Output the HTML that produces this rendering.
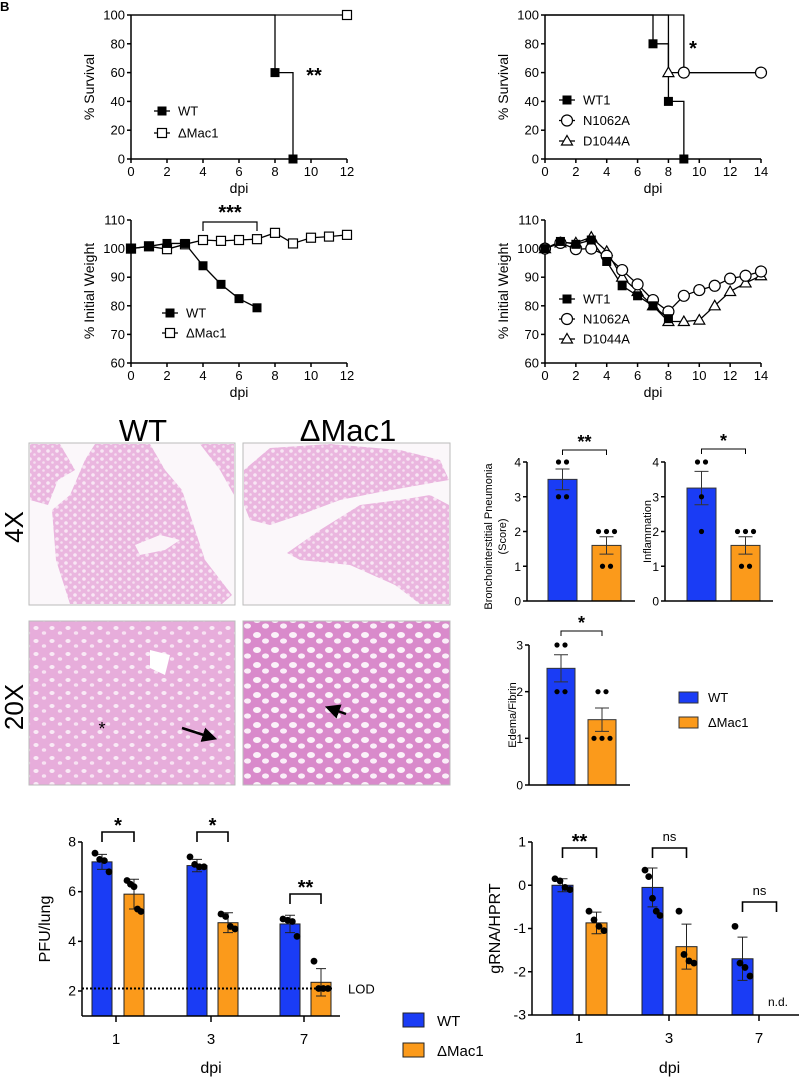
<!DOCTYPE html>
<html><head><meta charset="utf-8"><style>
html,body{margin:0;padding:0;background:#fff;}
svg{display:block;font-family:"Liberation Sans",Arial,sans-serif;}
</style></head><body>
<svg id="fig" width="799" height="1078" viewBox="0 0 799 1078">
<defs>
<pattern id="tis4" width="9" height="8" patternUnits="userSpaceOnUse"><rect width="9" height="8" fill="#eab6df"/><circle cx="3" cy="3" r="1.8" fill="#f8e6f4"/><circle cx="7.5" cy="6.5" r="1.3" fill="#f5dff0"/></pattern>
<pattern id="tis20a" width="16" height="13" patternUnits="userSpaceOnUse"><rect width="16" height="13" fill="#e7addb"/><ellipse cx="4" cy="4" rx="2.6" ry="2" fill="#f9eaf6"/><ellipse cx="12" cy="9" rx="2.2" ry="1.8" fill="#f7e2f2"/></pattern>
<pattern id="tis20b" width="18" height="15" patternUnits="userSpaceOnUse"><rect width="18" height="15" fill="#d98acb"/><ellipse cx="5" cy="5" rx="4" ry="3" fill="#fbf2f9"/><ellipse cx="13.5" cy="11" rx="3.5" ry="2.6" fill="#faeef8"/></pattern>
<marker id="ah" markerWidth="6" markerHeight="6" refX="3" refY="3" orient="auto"><path d="M0,0L6,3L0,6Z" fill="#000"/></marker>
</defs>
<text x="0" y="11" font-size="13" font-weight="bold">B</text>
<g>
<text x="143" y="441" font-size="31" text-anchor="middle">WT</text>
<text x="348" y="441" font-size="31" text-anchor="middle">ΔMac1</text>
<text transform="translate(23,527) rotate(-90)" font-size="26" text-anchor="middle">4X</text>
<text transform="translate(23,707) rotate(-90)" font-size="26" text-anchor="middle">20X</text>
<g>
<rect x="29" y="443" width="206" height="162" fill="#fbf7fa" stroke="#bbb"/>
<path d="M30,444 L60,444 L75,470 L58,480 L48,505 L30,500 Z" fill="url(#tis4)"/>
<path d="M95,444 L150,444 L165,470 L182,490 L205,560 L232,595 L222,604 L70,604 L56,560 L52,510 L70,495 L85,460 Z" fill="url(#tis4)"/>
<path d="M200,444 L234,444 L234,495 L220,470 Z" fill="url(#tis4)"/>
<path d="M135,545 L160,535 L180,540 L165,550 L140,555 Z" fill="#fbf4f9"/>
</g>
<g>
<rect x="243" y="443" width="207" height="162" fill="#fbf7fa" stroke="#bbb"/>
<path d="M244,470 L270,448 L330,444 L400,450 L440,460 L449,480 L420,485 L380,492 L340,500 L300,515 L270,525 L250,520 L244,505 Z" fill="url(#tis4)"/>
<path d="M287,553 L320,530 L360,505 L400,500 L430,495 L449,505 L449,604 L420,604 L395,585 L350,565 L300,560 Z" fill="url(#tis4)"/>
</g>
<g>
<rect x="29" y="621" width="206" height="164" fill="url(#tis20a)" stroke="#bbb"/>
<path d="M150,650 L170,655 L165,675 L150,668 Z" fill="#fff"/>
<text x="102" y="735" font-size="18" text-anchor="middle">*</text>
<line x1="182" y1="728" x2="210" y2="737" stroke="#000" stroke-width="2.5" marker-end="url(#ah)"/>
</g>
<g>
<rect x="243" y="621" width="207" height="164" fill="url(#tis20b)" stroke="#bbb"/>
<line x1="346" y1="714" x2="332" y2="709" stroke="#000" stroke-width="2.5" marker-end="url(#ah)"/>
</g>
</g>
</svg>
<script>
// ---------- data ----------
const survLeftWtT=[0,8,9], survLeftWtV=[100,60,0];
const survLeftMacT=[0,12], survLeftMacV=[100,100];
const survRightWtT=[0,7,8,9], survRightWtV=[100,80,40,0];
const survRightNT=[0,9,14], survRightNV=[100,60,60];
const survRightDT=[0,8,14], survRightDV=[100,60,60];
const wtLeftDays=[0,1,2,3,4,5,6,7];
const wtLeftWT=[100,100.8,101.8,101.8,94,87.5,82.5,79.3];
const wtLeftMacDays=[0,1,2,3,4,5,6,7,8,9,10,11,12];
const wtLeftMac=[100,100.8,99.8,101.5,103,102.7,103,103.3,105.5,101.8,103.8,104.2,104.8];
const wtRightWtDays=[0,1,2,3,4,5,6,7,8];
const wtRightWT1=[100,102.5,101.5,103,95.5,87,83.5,80,75.5];
const wtRightDays=[0,1,2,3,4,5,6,7,8,9,10,11,12,13,14];
const wtRightN=[100,102,99.8,100,97.5,92.5,87.5,82,78,83.5,85.5,87,89.5,90.5,92];
const wtRightD=[100,102,102,104,99,90,85,80,74.5,74.5,75,80,85,88,90.5];
const histGroups=['WT','ΔMac1'];
const bronchoMean=[3.5,1.6], bronchoErr=[0.3,0.25];
const bronchoDots=[[4,4,3,3],[2,2,2,1,1]];
const inflMean=[3.25,1.6], inflErr=[0.48,0.25];
const inflDots=[[4,4,3,2],[2,2,2,1,1]];
const edemaMean=[2.5,1.4], edemaErr=[0.29,0.25];
const edemaDots=[[3,3,2,2],[2,2,1,1,1]];
const dpiCats=['1','3','7'];
const pfuWT=[7.2,7.05,4.7], pfuMac=[5.9,4.75,2.35];
const pfuWTErr=[0.3,0.25,0.35], pfuMacErr=[0.6,0.4,0.55];
const pfuWTDots=[[7.55,7.3,7.25,6.8],[7.4,7.1,7.0,7.0],[4.9,4.85,4.8,4.2]];
const pfuMacDots=[[6.45,6.3,6.2,5.3,5.2],[5.1,5.0,4.6,4.5],[3.2,2.1,2.1,2.1]];
const pfuSig=['*','*','**'];
const lod=2.1;
const rnaWT=[0,-0.05,-1.7], rnaMac=[-0.87,-1.42,null];
const rnaWTErr=[0.15,0.45,0.5], rnaMacErr=[0.25,0.52,0];
const rnaWTDots=[[0.15,0.1,-0.05,-0.1],[0.35,0.2,-0.3,-0.6,-0.7],[-0.95,-1.8,-1.9,-2.1]];
const rnaMacDots=[[-0.6,-0.8,-0.95,-1.05],[-0.6,-1.6,-1.75,-1.8],[]];
const rnaSig=['**','ns','ns'];
// ---------- helpers ----------
const NS='http://www.w3.org/2000/svg';
const svg=document.getElementById('fig');
function mk(tag,attrs,name,parent){
  const e=document.createElementNS(NS,tag);
  for(const k in attrs) e.setAttribute(k,attrs[k]);
  
  
  (parent||svg).appendChild(e); return e;
}
function txt(x,y,s,size,name,parent,anchor,extra){
  const t=mk('text',Object.assign({x:x,y:y,'font-size':size,'text-anchor':anchor||'middle'},extra||{}),name,parent);
  t.textContent=s; return t;
}
function sc(d0,d1,r0,r1){return v=>r0+(v-d0)*(r1-r0)/(d1-d0);}
function yAxis(g,x,ys,ticks,ytop,ybot,fs){
  mk('line',{x1:x,y1:ytop,x2:x,y2:ybot,stroke:'#000','stroke-width':1.5},'y-axis-line',g);
  ticks.forEach(v=>{const y=ys(v);
    mk('line',{x1:x-4,y1:y,x2:x,y2:y,stroke:'#000','stroke-width':1.5},'y-tick',g);
    txt(x-6,y+4.5,String(v),fs||13,'y-tick-label',g,'end');});
}
function xAxis(g,y,xs,ticks,x0,x1,labY){
  mk('line',{x1:x0,y1:y,x2:x1,y2:y,stroke:'#000','stroke-width':1.5},'x-axis-line',g);
  ticks.forEach(v=>{const x=xs(v);
    mk('line',{x1:x,y1:y,x2:x,y2:y+4,stroke:'#000','stroke-width':1.5},'x-tick',g);
    txt(x,labY,String(v),13,'x-tick-label',g);});
}
function marker(g,type,x,y,name){
  if(type==='sq') mk('rect',{x:x-4.5,y:y-4.5,width:9,height:9,fill:'#000'},name,g);
  else if(type==='osq') mk('rect',{x:x-4.5,y:y-4.5,width:9,height:9,fill:'#fff',stroke:'#000','stroke-width':1.2},name,g);
  else if(type==='ci') mk('circle',{cx:x,cy:y,r:5.5,fill:'#fff',stroke:'#000','stroke-width':1.2},name,g);
  else mk('path',{d:`M${x},${y-5.5}L${x+5.5},${y+4}L${x-5.5},${y+4}Z`,fill:'#fff',stroke:'#000','stroke-width':1.2},name,g);
}
function stepPath(g,T,V,xs,ys,name){
  let d=`M${xs(T[0])},${ys(V[0])}`;
  for(let i=1;i<T.length;i++){d+=`L${xs(T[i])},${ys(V[i-1])}L${xs(T[i])},${ys(V[i])}`;}
  mk('path',{d:d,fill:'none',stroke:'#000','stroke-width':1.3},name,g);
}
function linePath(g,T,V,xs,ys,name){
  mk('path',{d:T.map((t,i)=>(i?'L':'M')+xs(t)+','+ys(V[i])).join(''),fill:'none',stroke:'#000','stroke-width':1.3},name,g);
}
function legend(g,x,y,items,gap){
  items.forEach((it,i)=>{const yy=y+i*gap;
    mk('line',{x1:x-8,y1:yy,x2:x+8,y2:yy,stroke:'#000','stroke-width':1.3},'legend-line',g);
    marker(g,it[0],x,yy,'legend-marker');
    txt(x+16,yy+4.5,it[1],13,'legend-label',g,'start');});
}
// ---------- survival left ----------
(function(){
  const g=mk('g',{},'survival-chart-left');
  const xs=sc(0,12,131,347), ys=sc(0,100,159,15);
  yAxis(g,131,ys,[0,20,40,60,80,100],15,159);
  xAxis(g,159,xs,[0,2,4,6,8,10,12],131,347,176);
  txt(xs(6),193,'dpi',14,'x-axis-title',g);
  txt(0,0,'% Survival',14,'y-axis-title',g,'middle',{transform:'translate(94,87) rotate(-90)'});
  stepPath(g,survLeftMacT,survLeftMacV,xs,ys,'survival-line-mac1');
  stepPath(g,survLeftWtT,survLeftWtV,xs,ys,'survival-line-wt');
  for(let i=1;i<survLeftWtT.length;i++) marker(g,'sq',xs(survLeftWtT[i]),ys(survLeftWtV[i]),'survival-point-wt');
  marker(g,'osq',xs(12),ys(100),'survival-point-mac1');
  txt(314,82,'**',20,'significance-stars',g,'middle',{'font-weight':'bold'});
  legend(g,162,111,[['sq','WT'],['osq','ΔMac1']],22);
})();
// ---------- weight left ----------
(function(){
  const g=mk('g',{},'weight-chart-left');
  const xs=sc(0,12,131,347), ys=sc(60,110,363,220);
  yAxis(g,131,ys,[60,70,80,90,100,110],220,363);
  xAxis(g,363,xs,[0,2,4,6,8,10,12],131,347,380);
  txt(xs(6),397,'dpi',14,'x-axis-title',g);
  txt(0,0,'% Initial Weight',14,'y-axis-title',g,'middle',{transform:'translate(94,291) rotate(-90)'});
  linePath(g,wtLeftMacDays,wtLeftMac,xs,ys,'weight-line-mac1');
  linePath(g,wtLeftDays,wtLeftWT,xs,ys,'weight-line-wt');
  wtLeftMacDays.forEach((d,i)=>marker(g,'osq',xs(d),ys(wtLeftMac[i]),'weight-point-mac1'));
  wtLeftDays.forEach((d,i)=>marker(g,'sq',xs(d),ys(wtLeftWT[i]),'weight-point-wt'));
  mk('path',{d:`M${xs(4)},231L${xs(4)},222L${xs(7)},222L${xs(7)},231`,fill:'none',stroke:'#000','stroke-width':1.2},'significance-bracket',g);
  txt(xs(5.5),219,'***',20,'significance-stars',g,'middle',{'font-weight':'bold'});
  legend(g,170,313,[['sq','WT'],['osq','ΔMac1']],20);
})();
// ---------- survival right ----------
(function(){
  const g=mk('g',{},'survival-chart-right');
  const xs=sc(0,14,545,761), ys=sc(0,100,159,15);
  yAxis(g,545,ys,[0,20,40,60,80,100],15,159);
  xAxis(g,159,xs,[0,2,4,6,8,10,12,14],545,761,176);
  txt(xs(7),193,'dpi',14,'x-axis-title',g);
  txt(0,0,'% Survival',14,'y-axis-title',g,'middle',{transform:'translate(508,87) rotate(-90)'});
  stepPath(g,survRightNT,survRightNV,xs,ys,'survival-line-n1062a');
  stepPath(g,survRightDT,survRightDV,xs,ys,'survival-line-d1044a');
  stepPath(g,survRightWtT,survRightWtV,xs,ys,'survival-line-wt1');
  for(let i=1;i<survRightWtT.length;i++) marker(g,'sq',xs(survRightWtT[i]),ys(survRightWtV[i]),'survival-point-wt1');
  marker(g,'tri',xs(survRightDT[1]),ys(survRightDV[1]),'survival-point-d1044a');
  for(let i=1;i<survRightNT.length;i++) marker(g,'ci',xs(survRightNT[i]),ys(survRightNV[i]),'survival-point-n1062a');
  txt(693,55,'*',20,'significance-stars',g,'middle',{'font-weight':'bold'});
  legend(g,567,100,[['sq','WT1'],['ci','N1062A'],['tri','D1044A']],20.5);
})();
// ---------- weight right ----------
(function(){
  const g=mk('g',{},'weight-chart-right');
  const xs=sc(0,14,545,761), ys=sc(60,110,363,220);
  yAxis(g,545,ys,[60,70,80,90,100,110],220,363);
  xAxis(g,363,xs,[0,2,4,6,8,10,12,14],545,761,380);
  txt(xs(7),397,'dpi',14,'x-axis-title',g);
  txt(0,0,'% Initial Weight',14,'y-axis-title',g,'middle',{transform:'translate(508,291) rotate(-90)'});
  linePath(g,wtRightDays,wtRightD,xs,ys,'weight-line-d1044a');
  linePath(g,wtRightDays,wtRightN,xs,ys,'weight-line-n1062a');
  linePath(g,wtRightWtDays,wtRightWT1,xs,ys,'weight-line-wt1');
  wtRightDays.forEach((d,i)=>marker(g,'tri',xs(d),ys(wtRightD[i]),'weight-point-d1044a'));
  wtRightDays.forEach((d,i)=>marker(g,'ci',xs(d),ys(wtRightN[i]),'weight-point-n1062a'));
  wtRightWtDays.forEach((d,i)=>marker(g,'sq',xs(d),ys(wtRightWT1[i]),'weight-point-wt1'));
  legend(g,567,299,[['sq','WT1'],['ci','N1062A'],['tri','D1044A']],20);
})();
// ---------- histology score bars ----------
const BLUE='#1a3cf5', ORANGE='#fb9a1b';
function dots(g,cx,w,vals,ys,name){
  const groups={}; vals.forEach(v=>{(groups[v]=groups[v]||[]).push(v);});
  Object.keys(groups).forEach(k=>{const n=groups[k].length;
    groups[k].forEach((v,i)=>{const x=cx+(i-(n-1)/2)*Math.min(8,w/n);
      mk('circle',{cx:x,cy:ys(v),r:2.6,fill:'#000'},name,g);});});
}
function scoreChart(name,ax,axEnd,y0,yTopVal,yTopPx,ticks,bx,bw,mean,err,dd,label,labX,brY,sig,label2){
  const g=mk('g',{},name);
  const ys=sc(0,yTopVal,y0,yTopPx);
  mean.forEach((m,i)=>{
    mk('rect',{x:bx[i],y:ys(m),width:bw,height:y0-ys(m),fill:i?ORANGE:BLUE,stroke:'#333','stroke-width':1},'bar-'+(i?'mac1':'wt'),g);
    const cx=bx[i]+bw/2;
    mk('path',{d:`M${cx},${ys(m-err[i])}L${cx},${ys(m+err[i])}M${cx-7},${ys(m+err[i])}L${cx+7},${ys(m+err[i])}M${cx-7},${ys(m-err[i])}L${cx+7},${ys(m-err[i])}`,stroke:'#333','stroke-width':1,fill:'none'},'error-bar',g);
    dots(g,cx,bw,dd[i],ys,'data-point');
  });
  yAxis(g,ax,ys,ticks,ys(ticks[ticks.length-1]),y0,12);
  mk('line',{x1:ax,y1:y0,x2:axEnd,y2:y0,stroke:'#000','stroke-width':1.5},'x-axis-line',g);
  const c0=bx[0]+bw/2,c1=bx[1]+bw/2;
  mk('path',{d:`M${c0},${brY+5}L${c0},${brY}L${c1},${brY}L${c1},${brY+5}`,fill:'none',stroke:'#000','stroke-width':1},'significance-bracket',g);
  txt((c0+c1)/2,brY-2,sig,18,'significance-stars',g,'middle',{'font-weight':'bold'});
  const yc=(y0+ys(ticks[ticks.length-1]))/2;
  if(label2){txt(0,0,label,11,'y-axis-title',g,'middle',{transform:`translate(${labX-8},${yc+5}) rotate(-90)`});
    txt(0,0,label2,11,'y-axis-title',g,'middle',{transform:`translate(${labX+6},${yc+5}) rotate(-90)`});}
  else txt(0,0,label,11,'y-axis-title',g,'middle',{transform:`translate(${labX},${yc}) rotate(-90)`});
}
scoreChart('broncho-score-chart',527,635,601,4,462,[0,1,2,3,4],[548,592],29,bronchoMean,bronchoErr,bronchoDots,'Bronchointerstitial Pneumonia',500,450,'**','(Score)');
scoreChart('inflammation-score-chart',665,773,601,4,462,[0,1,2,3,4],[687,731],29,inflMean,inflErr,inflDots,'Inflammation',651,449,'*');
scoreChart('edema-score-chart',529,630,785,3,645,[0,1,2,3],[547,588],28,edemaMean,edemaErr,edemaDots,'Edema/Fibrin',516,631,'*');
(function(){
  const g=mk('g',{},'histology-legend');
  mk('rect',{x:679,y:692,width:19,height:11,fill:BLUE,stroke:'#333'},'legend-swatch-wt',g);
  txt(708,702,'WT',13,'legend-label',g,'start');
  mk('rect',{x:679,y:717,width:19,height:11,fill:ORANGE,stroke:'#333'},'legend-swatch-mac1',g);
  txt(708,727,'ΔMac1',13,'legend-label',g,'start');
})();
// ---------- grouped bar charts ----------
function groupChart(name,ax,axEnd,ys,yBot,ticks,cats,wtX,macX,bw,tickX,wt,mac,wtE,macE,wtD,macD,sig,brY,title,titleX){
  const g=mk('g',{},name);
  cats.forEach((c,i)=>{
    [[wt,wtE,wtD,wtX,BLUE,'wt'],[mac,macE,macD,macX,ORANGE,'mac1']].forEach(s=>{
      const v=s[0][i]; if(v===null) return;
      const x=s[3][i], top=ys(v);
      mk('rect',{x:x,y:Math.min(top,yBot),width:bw,height:Math.abs(yBot-top),fill:s[4],stroke:'#222','stroke-width':1},'bar-'+s[5]+'-'+c,g);
      const cx=x+bw/2, e=s[1][i];
      if(e>0) mk('path',{d:`M${cx},${ys(v+e)}L${cx},${ys(v-e)}M${cx-5},${ys(v+e)}L${cx+5},${ys(v+e)}M${cx-5},${ys(v-e)}L${cx+5},${ys(v-e)}`,stroke:'#222','stroke-width':1,fill:'none'},'error-bar',g);
      s[2][i].forEach((d,j)=>{const n=s[2][i].length;
        mk('circle',{cx:cx+(j-(n-1)/2)*(bw-6)/Math.max(n-1,1),cy:ys(d),r:3.4,fill:'#000'},'data-point',g);});
    });
    const c0=wtX[i]+bw/2,c1=macX[i]+bw/2, by=brY[i];
    mk('path',{d:`M${c0},${by+10}L${c0},${by}L${c1},${by}L${c1},${by+10}`,fill:'none',stroke:'#000','stroke-width':1.6},'significance-bracket',g);
    const star=sig[i]!=='ns';
    txt((c0+c1)/2,by-(star?0:7),sig[i],star?20:13,'significance-label',g,'middle',star?{'font-weight':'bold'}:{});
  });
  yAxis(g,ax,ys,ticks,ys(ticks[ticks.length-1]),ys.bottom,14);
  mk('line',{x1:ax,y1:ys.bottom,x2:axEnd,y2:ys.bottom,stroke:'#000','stroke-width':1.5},'x-axis-line',g);
  tickX.forEach((x,i)=>{mk('line',{x1:x,y1:ys.bottom,x2:x,y2:ys.bottom+6,stroke:'#000','stroke-width':1.5},'x-tick',g);
    txt(x,ys.bottom+28,cats[i],15,'x-tick-label',g);});
  txt((ax+axEnd)/2-(name==='pfu-chart'?0:-4),1073,'dpi',16,'x-axis-title',g);
  txt(0,0,title,16,'y-axis-title',g,'middle',{transform:`translate(${titleX},${(ys(ticks[ticks.length-1])+ys.bottom)/2}) rotate(-90)`});
  return g;
}
(function(){
  const ys=sc(2,8,991,842); ys.bottom=1016;
  const g=groupChart('pfu-chart',82,340,ys,1016,[2,4,6,8],dpiCats,[92,187,280],[124,218,311],20,[116,211,304],
    pfuWT,pfuMac,pfuWTErr,pfuMacErr,pfuWTDots,pfuMacDots,pfuSig,[832,832,894],'PFU/lung',50);
  mk('line',{x1:82,y1:ys(lod),x2:334,y2:ys(lod),stroke:'#000','stroke-width':2,'stroke-dasharray':'2,2'},'lod-line',g);
  txt(348,ys(lod)+5,'LOD',13,'lod-label',g,'start');
})();
(function(){
  const ys=sc(-3,1,1015,842); ys.bottom=1015;
  const g=groupChart('grna-chart',532,799,ys,1015,[-3,-2,-1,0,1],dpiCats,[552,642,732],[586,676,766],21,[579,669,759],
    rnaWT,rnaMac,rnaWTErr,rnaMacErr,rnaWTDots,rnaMacDots,rnaSig,[848,848,902],'gRNA/HPRT',500);
  txt(778,1006,'n.d.',12,'not-detected-label',g);
})();
(function(){
  const g=mk('g',{},'bottom-legend');
  mk('rect',{x:403,y:1013,width:21,height:14,fill:BLUE,stroke:'#222'},'legend-swatch-wt',g);
  txt(437,1026,'WT',15,'legend-label',g,'start');
  mk('rect',{x:403,y:1043,width:21,height:14,fill:ORANGE,stroke:'#222'},'legend-swatch-mac1',g);
  txt(437,1056,'ΔMac1',15,'legend-label',g,'start');
})();
</script>
</body></html>
